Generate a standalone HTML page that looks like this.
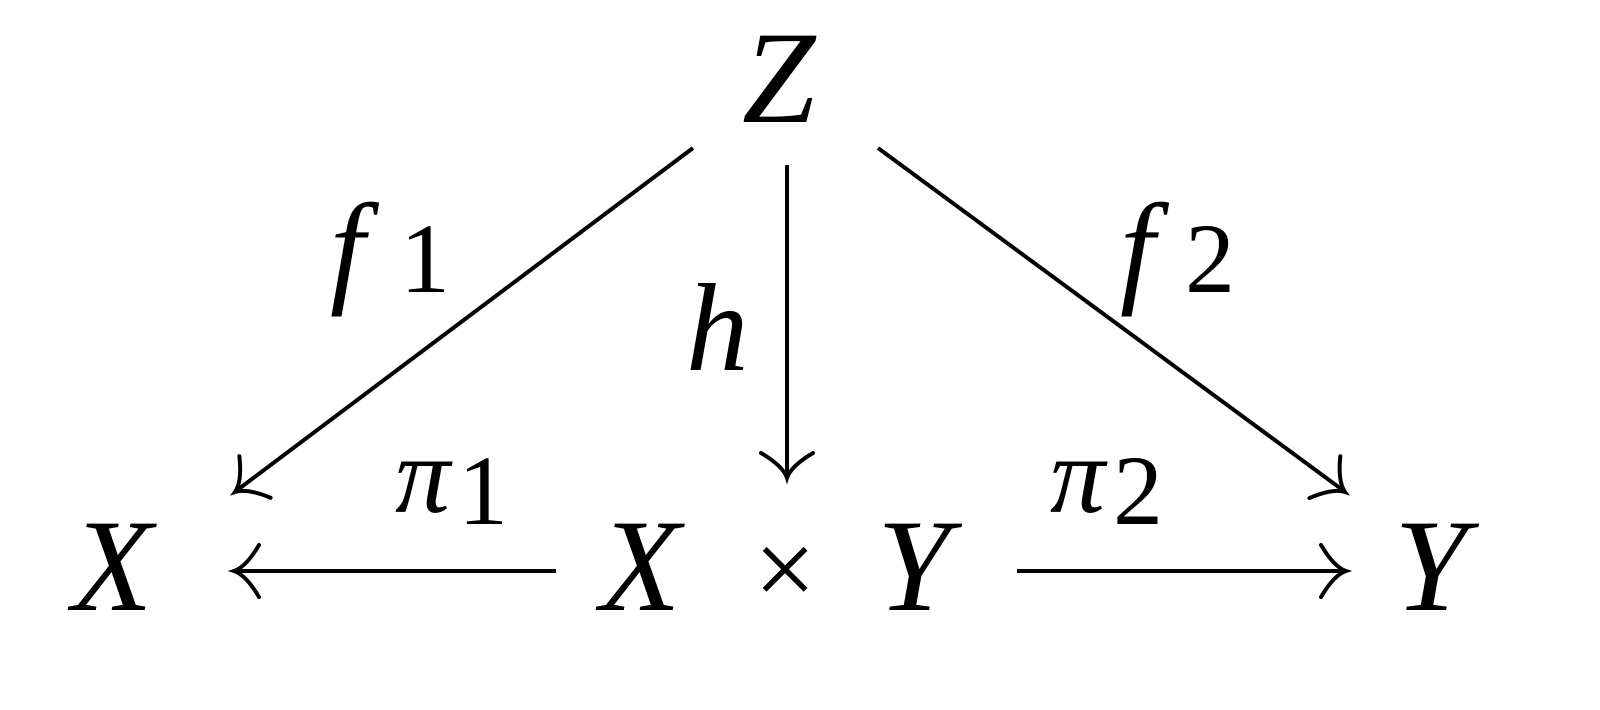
<!DOCTYPE html>
<html><head><meta charset="utf-8"><style>
html,body{margin:0;padding:0;background:#fff;}
svg{display:block}
text{font-family:"Liberation Serif","Times New Roman",serif;fill:#000}
.i{font-style:italic}
</style></head><body>
<svg width="1600" height="710" viewBox="0 0 1600 710" xmlns="http://www.w3.org/2000/svg" font-family="Liberation Serif, serif">
<defs>
<path id="ah" d="M25,-26 Q12,-4 0,0 Q12,4 25,26" fill="none" stroke="#000" stroke-width="4" stroke-linecap="round"/>
</defs>
<g stroke="#000" stroke-width="4" fill="none">
<line x1="693" y1="148" x2="236" y2="491"/>
<line x1="787" y1="165" x2="787" y2="476"/>
<line x1="878" y1="148" x2="1344" y2="491"/>
<line x1="556" y1="571" x2="236" y2="571"/>
<line x1="1017" y1="571" x2="1344" y2="571"/>
</g>
<use href="#ah" transform="translate(235,492) rotate(-36.9)"/>
<use href="#ah" transform="translate(787,478) rotate(-90)"/>
<use href="#ah" transform="translate(1345,492) rotate(-143.6)"/>
<use href="#ah" transform="translate(234,571)"/>
<use href="#ah" transform="translate(1346,571) rotate(180)"/>

<text class="i" font-style="italic" x="742" y="122" font-size="132">Z</text>
<text class="i" font-style="italic" x="72" y="610" font-size="132">X</text>
<text class="i" font-style="italic" x="600" y="610" font-size="132">X</text>
<text x="754" y="606" font-size="110">×</text>
<text class="i" font-style="italic" x="877" y="610" font-size="132">Y</text>
<text class="i" font-style="italic" x="1394" y="610" font-size="132">Y</text>

<text class="i" font-style="italic" x="330" y="290" font-size="125">f</text>
<text x="400" y="292" font-size="100">1</text>
<text class="i" font-style="italic" x="686" y="370" font-size="125">h</text>
<text class="i" font-style="italic" x="1120" y="290" font-size="125">f</text>
<text x="1185" y="292" font-size="100">2</text>
<text class="i" font-style="italic" x="395" y="512" font-size="110">π</text>
<text x="458" y="524" font-size="100">1</text>
<text class="i" font-style="italic" x="1050" y="512" font-size="110">π</text>
<text x="1113" y="524" font-size="100">2</text>
</svg>
</body></html>
